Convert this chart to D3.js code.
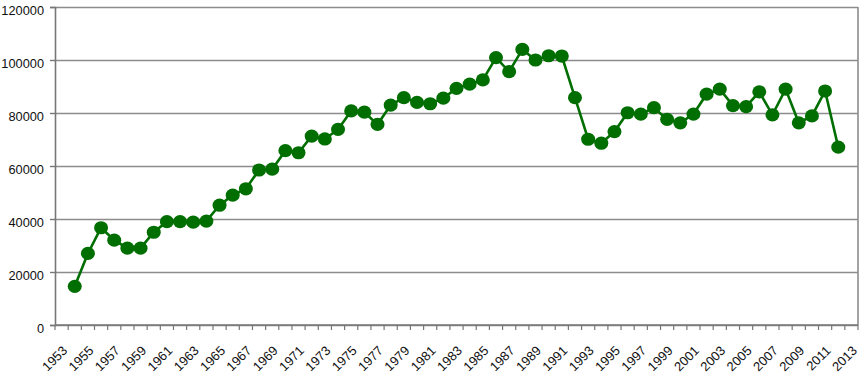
<!DOCTYPE html>
<html>
<head>
<meta charset="utf-8">
<script src="https://cdn.jsdelivr.net/npm/d3@7"></script>
<style>
  body { margin: 0; background: #fff; }
  svg text { font-family: "Liberation Sans", Arial, sans-serif; fill: #111; }
</style>
</head>
<body>
<div id="chart"></div>
<script>
// categories on the x axis (1953 and 2013 have no value)
const categories = [1953, 1954, 1955, 1956, 1957, 1958, 1959, 1960, 1961, 1962,
                    1963, 1964, 1965, 1966, 1967, 1968, 1969, 1970, 1971, 1972,
                    1973, 1974, 1975, 1976, 1977, 1978, 1979, 1980, 1981, 1982,
                    1983, 1984, 1985, 1986, 1987, 1988, 1989, 1990, 1991, 1992,
                    1993, 1994, 1995, 1996, 1997, 1998, 1999, 2000, 2001, 2002,
                    2003, 2004, 2005, 2006, 2007, 2008, 2009, 2010, 2011, 2012, 2013];
const years = categories.slice(1, -1);
const values = [14600, 27000, 36700, 32000, 29000, 29000, 35000, 39000, 39000, 38800,
                39200, 45200, 49000, 51400, 58500, 58800, 65800, 65000, 71300, 70200,
                73800, 80800, 80300, 75700, 83000, 85800, 84000, 83500, 85600, 89300,
                90900, 92500, 100900, 95600, 104000, 100000, 101600, 101500, 85800, 70100,
                68600, 73000, 80100, 79600, 82000, 77600, 76300, 79600, 87100, 89000,
                82800, 82400, 88000, 79300, 89000, 76300, 78900, 88300, 67100];
const xTickLabels = [1953, 1955, 1957, 1959, 1961, 1963, 1965, 1967, 1969, 1971,
                     1973, 1975, 1977, 1979, 1981, 1983, 1985, 1987, 1989, 1991,
                     1993, 1995, 1997, 1999, 2001, 2003, 2005, 2007, 2009, 2011, 2013];
const yTicks = [0, 20000, 40000, 60000, 80000, 100000, 120000];

const WIDTH = 862, HEIGHT = 377;
const margin = {top: 7, right: 4, bottom: 52, left: 55};
const width = WIDTH - margin.left - margin.right,
      height = HEIGHT - margin.top - margin.bottom;

const svg = d3.select("#chart")
              .append("svg")
                .attr("width", WIDTH)
                .attr("height", HEIGHT)
              .append("g")
                .attr("transform", `translate(${margin.left}, ${margin.top})`);

const x = d3.scaleBand()
            .domain(categories)
            .range([0, width]);
const y = d3.scaleLinear()
            .domain([0, 120000])
            .range([height, 0]);

// gridlines
svg.append("g")
   .attr("class", "grid")
   .call(d3.axisLeft(y).tickValues(yTicks).tickSize(-width).tickFormat(""))
   .call(g => g.select(".domain").remove())
   .selectAll("line")
     .attr("stroke", "#8c8c8c")
     .attr("stroke-width", 1.6);

// right border of plot area
svg.append("line")
   .attr("x1", width).attr("x2", width)
   .attr("y1", 0).attr("y2", height)
   .attr("stroke", "#8c8c8c")
   .attr("stroke-width", 1.6);

// Y axis
svg.append("g")
   .call(d3.axisLeft(y).tickValues(yTicks).tickSize(5).tickPadding(6).tickFormat(d3.format("d")))
   .call(g => g.select(".domain").attr("stroke", "#777").attr("stroke-width", 1.6))
   .call(g => g.selectAll("line").attr("stroke", "#777").attr("stroke-width", 1.4))
   .selectAll("text")
     .attr("dy", "0.55em")
     .style("font-size", "12.8px");

// X axis line + tick marks at category boundaries
svg.append("line")
   .attr("x1", 0).attr("x2", width)
   .attr("y1", height).attr("y2", height)
   .attr("stroke", "#777")
   .attr("stroke-width", 1.6);
svg.append("g")
   .selectAll("line")
   .data(categories.map(c => x(c)).concat([width]))
   .join("line")
     .attr("x1", d => d).attr("x2", d => d)
     .attr("y1", height).attr("y2", height + 5)
     .attr("stroke", "#777")
     .attr("stroke-width", 1.2);

// X labels, rotated
svg.append("g")
   .selectAll("text")
   .data(xTickLabels)
   .join("text")
     .attr("transform", d => `translate(${x(d) + x.bandwidth() / 2}, ${height + 20}) rotate(-45)`)
     .attr("text-anchor", "end")
     .attr("dy", "0.7em")
     .style("font-size", "13px")
     .text(d => d);

// line + markers
const points = years.map((yr, i) => ({year: yr, value: values[i]}));
const line = d3.line()
               .x(d => x(d.year) + x.bandwidth() / 2)
               .y(d => y(d.value));

svg.append("path")
   .datum(points)
   .attr("d", line)
   .attr("fill", "none")
   .attr("stroke", "#006e00")
   .attr("stroke-width", 2.6);

svg.selectAll("ellipse")
   .data(points)
   .join("ellipse")
     .attr("cx", d => x(d.year) + x.bandwidth() / 2)
     .attr("cy", d => y(d.value))
     .attr("rx", 7)
     .attr("ry", 6.6)
     .attr("fill", "#006e00");
</script>
</body>
</html>
